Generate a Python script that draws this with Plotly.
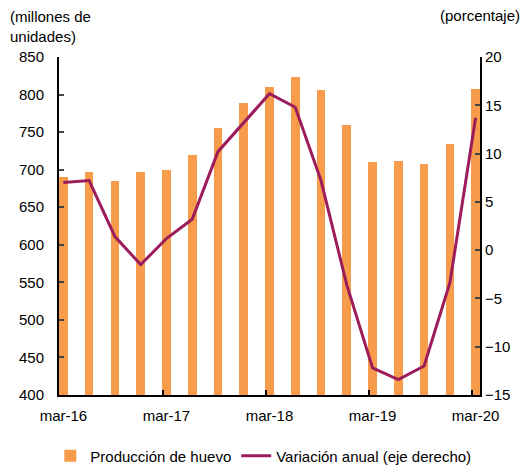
import plotly.graph_objects as go

# quarterly data, mar-16 .. mar-20
quarters = ['mar-16', 'jun-16', 'sep-16', 'dic-16',
            'mar-17', 'jun-17', 'sep-17', 'dic-17',
            'mar-18', 'jun-18', 'sep-18', 'dic-18',
            'mar-19', 'jun-19', 'sep-19', 'dic-19',
            'mar-20']
produccion = [690, 697, 685, 697, 699, 720, 755, 789, 810,
              824, 806, 759, 710, 712, 708, 734, 808]
variacion = [7.0, 7.2, 1.4, -1.5, 1.2, 3.2, 10.2, 13.2, 16.2,
             14.8, 7.2, -3.6, -12.2, -13.4, -12.0, -3.4, 13.7]
tick_labels = ['mar-16', 'mar-17', 'mar-18', 'mar-19', 'mar-20']

FONT = 'Liberation Sans, Arial, sans-serif'
idx = list(range(len(quarters)))
label_pos = [i for i, q in enumerate(quarters) if q in tick_labels]

fig = go.Figure()
fig.add_trace(go.Bar(x=idx, y=produccion, name='Producción de huevo',
                     marker_color='#F79C4B', marker_line_width=0, width=0.337))
fig.add_trace(go.Scatter(x=idx, y=variacion, name='Variación anual (eje derecho)',
                         yaxis='y2', mode='lines',
                         line=dict(color='#9C1C5C', width=3)))

# page body has an 8px margin, so the figure is a bit smaller than the window
fig.update_layout(
    width=521, height=458,
    margin=dict(l=51, r=49, t=49, b=71, autoexpand=False),
    plot_bgcolor='white', paper_bgcolor='white',
    font=dict(family=FONT, size=15, color='black'),
    bargap=0,
    xaxis=dict(range=[-0.17, 16.17], tickvals=label_pos, ticktext=tick_labels,
               ticks='', showline=True, linecolor='black', linewidth=2,
               showgrid=False, zeroline=False, ticklabelstandoff=6,
               minor=dict(tickvals=[p - 0.13 for p in label_pos[1:]],
                          ticks='inside', ticklen=5, tickwidth=1.5,
                          tickcolor='black', showgrid=False)),
    yaxis=dict(range=[400, 850], dtick=50, ticks='inside', ticklen=5,
               tickwidth=1.5, showline=True, linecolor='black', linewidth=2,
               showgrid=False, zeroline=False, ticklabelstandoff=10),
    yaxis2=dict(range=[-15, 20], dtick=5, overlaying='y', side='right',
                ticks='inside', ticklen=5, tickwidth=1.5, showline=True,
                linecolor='black', linewidth=2, showgrid=False, zeroline=False),
    legend=dict(orientation='h', xref='container', x=0.49, xanchor='center',
                yref='container', y=0.022, yanchor='middle',
                font=dict(size=15), itemwidth=30, traceorder='normal'),
    annotations=[
        dict(text='(millones de<br>unidades)', xref='paper', yref='paper',
             x=-0.121, y=1.15, xanchor='left', yanchor='top', align='left',
             showarrow=False, font=dict(size=15)),
        dict(text='(porcentaje)', xref='paper', yref='paper',
             x=1.1, y=1.124, xanchor='right', yanchor='middle',
             showarrow=False, font=dict(size=15)),
    ],
)

fig.write_html('out.html')
